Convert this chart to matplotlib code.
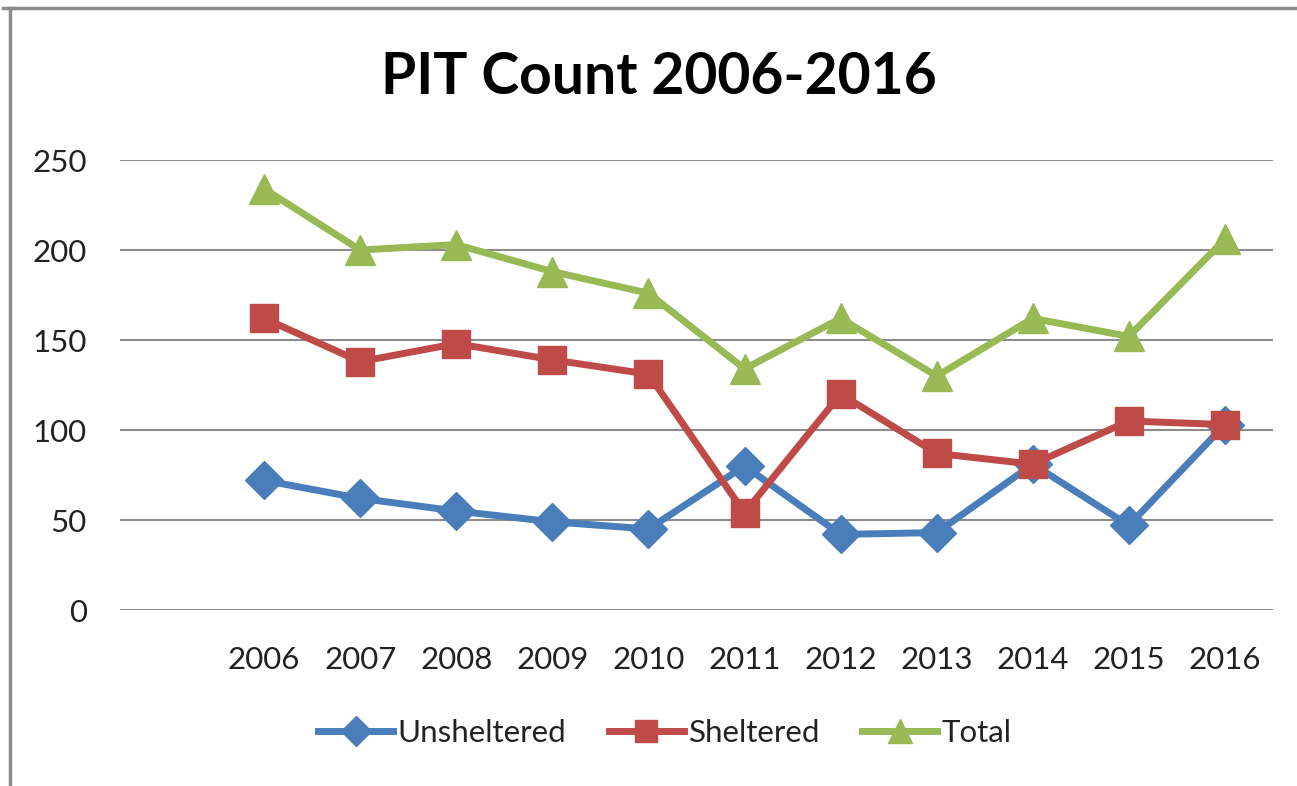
import matplotlib
matplotlib.use("Agg")
import matplotlib.pyplot as plt
from matplotlib.lines import Line2D

years = ["2006", "2007", "2008", "2009", "2010", "2011", "2012", "2013", "2014", "2015", "2016"]
unsheltered = [72, 62, 55, 49, 45, 80, 42, 43, 81, 47, 103]
sheltered = [162, 138, 148, 139, 131, 54, 120, 87, 81, 105, 103]
total = [234, 200, 203, 188, 176, 134, 162, 130, 162, 152, 206]
yticks = [0, 50, 100, 150, 200, 250]

FONT = ["Lato", "DejaVu Sans"]
plt.rcParams["font.family"] = FONT

W, H = 1297, 786
fig = plt.figure(figsize=(W / 100, H / 100), dpi=100)
ax = fig.add_axes([120 / W, 1 - 610 / H, (1273 - 120) / W, (610 - 160) / H])

x = list(range(len(years)))
blue, red, green = "#4A7EBB", "#BE4B48", "#98B954"
ax.plot(x, unsheltered, color=blue, lw=5, marker="D", ms=19, label="Unsheltered", clip_on=False, zorder=3)
ax.plot(x, sheltered, color=red, lw=5, marker="s", ms=20, label="Sheltered", clip_on=False, zorder=4)
ax.plot(x, total, color=green, lw=5, marker="^", ms=21, label="Total", clip_on=False, zorder=5)

ax.set_xlim(-1.5, len(years) - 0.5)
ax.set_ylim(0, 250)
ax.set_yticks(yticks)
ax.set_yticklabels([str(v) for v in yticks])
ax.set_xticks(x)
ax.set_xticklabels(years)
ax.tick_params(axis="both", length=0, labelsize=22.5, colors="#000000", labelcolor="#222222")
ax.tick_params(axis="y", pad=24)
ax.tick_params(axis="x", pad=26)
for s in ax.spines.values():
    s.set_visible(False)
ax.grid(axis="y", color="#8C8C8C", lw=1.5)
ax.set_axisbelow(True)

fig.text(659 / W, 1 - 77 / H, "PIT Count 2006-2016", ha="center", va="center",
         fontsize=41, fontweight="bold", color="#000000")

leg = fig.legend(loc="center", bbox_to_anchor=(665 / W, 1 - 733 / H), ncol=3, frameon=False,
                 fontsize=22.5, handlelength=2.4, handletextpad=0.15, columnspacing=1.35,
                 markerscale=0.8)
for t in leg.get_texts():
    t.set_color("#222222")

# outer chart border (left and top)
fig.add_artist(Line2D([3 / W, 1], [1 - 8 / H, 1 - 8 / H], transform=fig.transFigure, color="#8C8C8C", lw=2.5))
fig.add_artist(Line2D([9.5 / W, 9.5 / W], [0, 1 - 8 / H], transform=fig.transFigure, color="#8C8C8C", lw=2.5))

fig.savefig("out.png", dpi=100, facecolor="white")
